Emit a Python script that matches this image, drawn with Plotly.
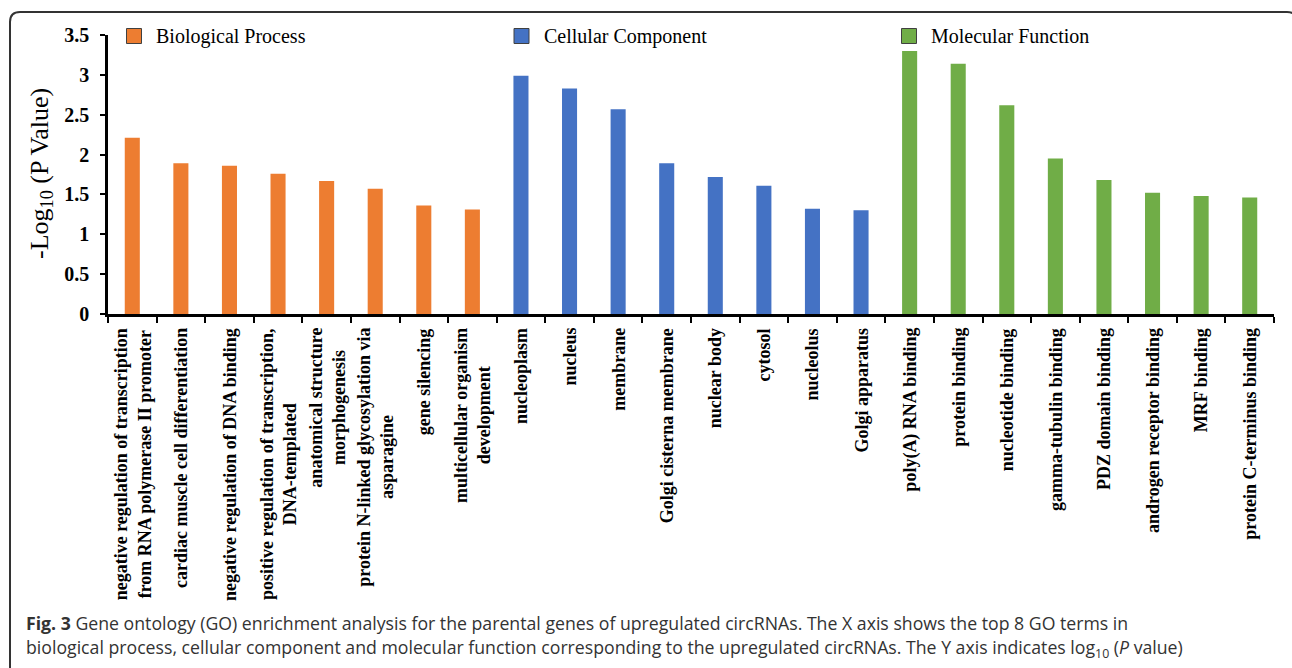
import plotly.graph_objects as go

# ---------------- data ----------------
groups = ["Biological Process", "Cellular Component", "Molecular Function"]
group_colors = ["#ED7D31", "#4472C4", "#70AD47"]

bp_terms = [
    "negative regulation of transcription<br>from RNA polymerase II promoter",
    "cardiac muscle cell differentiation",
    "negative regulation of DNA binding",
    "positive regulation of transcription,<br>DNA-templated",
    "anatomical structure<br>morphogenesis",
    "protein N-linked glycosylation via<br>asparagine",
    "gene silencing",
    "multicellular organism<br>development",
]
bp_values = [2.21, 1.89, 1.86, 1.76, 1.67, 1.57, 1.36, 1.31]

cc_terms = [
    "nucleoplasm", "nucleus", "membrane", "Golgi cisterna membrane",
    "nuclear body", "cytosol", "nucleolus", "Golgi apparatus",
]
cc_values = [2.99, 2.83, 2.57, 1.89, 1.72, 1.61, 1.32, 1.30]

mf_terms = [
    "poly(A) RNA binding", "protein binding", "nucleotide binding",
    "gamma-tubulin binding", "PDZ domain binding", "androgen receptor binding",
    "MRF binding", "protein C-terminus binding",
]
mf_values = [3.30, 3.14, 2.62, 1.95, 1.68, 1.52, 1.48, 1.46]

y_ticks = [0, 0.5, 1, 1.5, 2, 2.5, 3, 3.5]
y_title = "-Log<sub>10</sub> (P Value)"
caption_1 = ("<b>Fig. 3</b> Gene ontology (GO) enrichment analysis for the parental genes of "
             "upregulated circRNAs. The X axis shows the top 8 GO terms in")
caption_2 = ("biological process, cellular component and molecular function corresponding to the "
             "upregulated circRNAs. The Y axis indicates log<sub>10</sub> (<i>P</i> value)")

# ---------------- layout geometry ----------------
W, H = 1292, 668
ML, MR, MT, MB = 108, 18, 35, 354
PW, PH = W - ML - MR, H - MT - MB


def xp(px):
    return (px - ML) / PW


def yp(py):
    return (H - MB - py) / PH


serif = "Liberation Serif, Times New Roman, serif"

fig = go.Figure()
all_terms = bp_terms + cc_terms + mf_terms
for name, terms, vals, col in zip(groups, [bp_terms, cc_terms, mf_terms],
                                  [bp_values, cc_values, mf_values], group_colors):
    fig.add_trace(go.Bar(x=terms, y=vals, name=name, marker=dict(color=col, line=dict(width=0)),
                         showlegend=False))

annotations = []
shapes = []

# x category labels (center-aligned multi-line, rotated)
for t in all_terms:
    annotations.append(dict(x=t, xref="x", y=0, yref="paper", yshift=-12,
                            text=t, textangle=-90, showarrow=False,
                            xanchor="center", yanchor="top", align="center",
                            font=dict(family=serif, size=18, color="black", weight="bold")))

# legend (manual)
legend_px = [134, 521.5, 909]
for name, col, cx in zip(groups, group_colors, legend_px):
    shapes.append(dict(type="rect", xref="paper", yref="paper",
                       x0=xp(cx - 7.5), x1=xp(cx + 7.5), y0=yp(43.5), y1=yp(28.5),
                       fillcolor=col, line=dict(color="#404040", width=1)))
    annotations.append(dict(x=xp(cx + 20), y=yp(36), xref="paper", yref="paper",
                            text=name, showarrow=False, xanchor="left", yanchor="middle",
                            font=dict(family=serif, size=20, color="black")))

# y-axis title
annotations.append(dict(x=xp(41), y=yp(174), xref="paper", yref="paper", text=y_title,
                        textangle=-90, showarrow=False, xanchor="center", yanchor="middle",
                        font=dict(family=serif, size=26, color="black")))

# caption
for txt, cy in [(caption_1, 623), (caption_2, 648)]:
    annotations.append(dict(x=xp(24), y=yp(cy), xref="paper", yref="paper", text=txt,
                            showarrow=False, xanchor="left", yanchor="middle",
                            font=dict(family="Open Sans, sans-serif", size=17.7, color="#333333")))

# rounded border
x0b, x1b, ytb, ybb, r = 10, 1297, 12, 700, 10
path = (f"M {xp(x0b)},{yp(ybb)} L {xp(x0b)},{yp(ytb + r)} "
        f"Q {xp(x0b)},{yp(ytb)} {xp(x0b + r)},{yp(ytb)} "
        f"L {xp(x1b - r)},{yp(ytb)} Q {xp(x1b)},{yp(ytb)} {xp(x1b)},{yp(ytb + r)} "
        f"L {xp(x1b)},{yp(ybb)}")
shapes.append(dict(type="path", xref="paper", yref="paper", path=path,
                   line=dict(color="#333333", width=2)))

fig.update_layout(
    width=W, height=H,
    margin=dict(l=ML, r=MR, t=MT, b=MB, pad=0),
    paper_bgcolor="white", plot_bgcolor="white",
    barmode="overlay", bargap=0.69,
    showlegend=False,
    annotations=annotations, shapes=shapes,
    xaxis=dict(type="category", categoryorder="array", categoryarray=all_terms,
               showticklabels=False, ticks="outside", tickson="boundaries",
               ticklen=6, tickwidth=2, tickcolor="black",
               showline=True, linecolor="black", linewidth=2.5,
               showgrid=False, zeroline=False),
    yaxis=dict(range=[0, 3.5], tickvals=y_ticks, ticks="outside", ticklen=5, tickwidth=2,
               tickcolor="black", showline=True, linecolor="black", linewidth=2.5,
               showgrid=False, zeroline=False, ticklabelstandoff=7,
               tickfont=dict(family=serif, size=20, color="black", weight="bold")),
)

fig.write_html("out.html", config={"displayModeBar": False},
               post_script="document.body.style.margin='0';")
